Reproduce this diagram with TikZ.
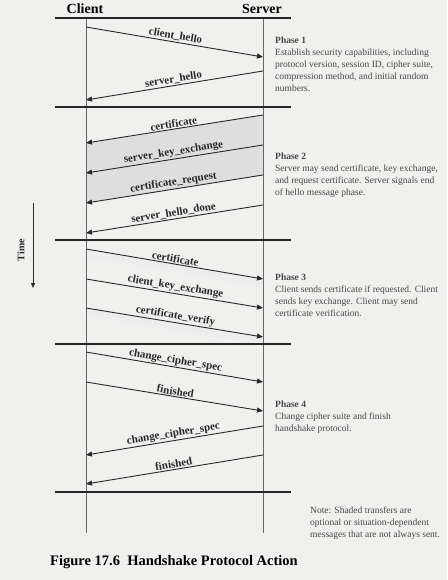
\documentclass[tikz,border=0pt]{standalone}
\usepackage{fontspec}
\setmainfont{Liberation Serif}
\usetikzlibrary{arrows.meta,calc,positioning}
\definecolor{paper}{RGB}{240,240,239}
\definecolor{ink}{RGB}{40,40,40}

\begin{document}
\begin{tikzpicture}[x=1pt,y=-1pt,
  msg/.style={draw=ink,line width=0.9pt,-{Triangle[length=6pt,width=5pt]}},
  lbl/.style={midway,sloped,above,inner sep=1pt,text=ink,font=\fontsize{11}{12}\selectfont\bfseries},
  rule/.style={line width=2.4pt,black!85},
  life/.style={line width=1pt,black!60},
  note/.style={anchor=north west,align=left,inner sep=0pt,text=black!72,font=\fontsize{9.5}{12}\selectfont},
  optband/.style={fill=black!13,draw=none}]
\fill[paper] (0,0) rectangle (447,580);
\useasboundingbox (0,0) rectangle (447,580);

% message end points
\coordinate (c1) at (86,27);  \coordinate (s1) at (263,57);
\coordinate (s2) at (263,71); \coordinate (c2) at (86,100);
\coordinate (s3) at (263,115); \coordinate (c3) at (86,143);
\coordinate (s4) at (263,145); \coordinate (c4) at (86,173);
\coordinate (s5) at (263,175); \coordinate (c5) at (86,203);
\coordinate (s6) at (263,205); \coordinate (c6) at (86,233);
\coordinate (c7) at (86,249);  \coordinate (s7) at (263,279);
\coordinate (c8) at (86,279);  \coordinate (s8) at (263,308);
\coordinate (c9) at (86,308);  \coordinate (s9) at (263,337);
\coordinate (c10) at (86,352); \coordinate (s10) at (263,382);
\coordinate (c11) at (86,382); \coordinate (s11) at (263,411);
\coordinate (s12) at (263,426); \coordinate (c12) at (86,455);
\coordinate (s13) at (263,455); \coordinate (c13) at (86,484);

% shaded (optional) transfers
\fill[optband] (s3) -- (c3) -- (c5) -- (s5) -- cycle;
\fill[optband,fill=black!7] (c7) -- (s7) -- ($(s7)+(0,8)$) -- ($(c7)+(0,8)$) -- cycle;
\fill[optband,fill=black!7] (c9) -- (s9) -- ($(s9)+(0,8)$) -- ($(c9)+(0,8)$) -- cycle;

% lifelines and phase rules
\coordinate (cTop) at (86,18);  \coordinate (cBot) at (86,533);
\coordinate (sTop) at (263,18); \coordinate (sBot) at (263,533);
\draw[life] (cTop) -- (cBot);
\draw[life] (sTop) -- (sBot);
\draw[rule] (55,18) -- (291,18);
\draw[rule] (55,107) -- (291,107);
\draw[rule] (55,240) -- (291,240);
\draw[rule] (55,344) -- (291,344);
\draw[rule] (55,492) -- (291,492);

\node[font=\fontsize{14}{16}\selectfont\bfseries] (client) at (85,9) {Client};
\node[font=\fontsize{14}{16}\selectfont\bfseries] (server) at (262,9) {Server};

% phase 1
\draw[msg] (c1) -- (s1) node[lbl] (m1) {client\_hello};
\draw[msg] (s2) -- (c2) node[lbl] (m2) {server\_hello};
% phase 2
\draw[msg] (s3) -- (c3) node[lbl] (m3) {certificate};
\draw[msg] (s4) -- (c4) node[lbl] (m4) {server\_key\_exchange};
\draw[msg] (s5) -- (c5) node[lbl] (m5) {certificate\_request};
\draw[msg] (s6) -- (c6) node[lbl] (m6) {server\_hello\_done};
% phase 3
\draw[msg] (c7) -- (s7) node[lbl] (m7) {certificate};
\draw[msg] (c8) -- (s8) node[lbl] (m8) {client\_key\_exchange};
\draw[msg] (c9) -- (s9) node[lbl] (m9) {certificate\_verify};
% phase 4
\draw[msg] (c10) -- (s10) node[lbl] (m10) {change\_cipher\_spec};
\draw[msg] (c11) -- (s11) node[lbl] (m11) {finished};
\draw[msg] (s12) -- (c12) node[lbl] (m12) {change\_cipher\_spec};
\draw[msg] (s13) -- (c13) node[lbl] (m13) {finished};

% time axis
\coordinate (t0) at (33,203);
\coordinate (t1) at (33,288);
\draw[ink,line width=0.8pt,-{Triangle[length=5pt,width=4pt]}] (t0) -- (t1);
\node[rotate=90,text=ink,font=\fontsize{10}{12}\selectfont\bfseries] (time) at (21,250) {Time};

% phase descriptions
\node[note] (p1) at (275,37) {\textbf{Phase 1}\\Establish security capabilities, including\\protocol version, session ID, cipher suite,\\compression method, and initial random\\numbers.};
\node[note] (p2) at (275,153) {\textbf{Phase 2}\\Server may send certificate, key exchange,\\and request certificate. Server signals end\\of hello message phase.};
\node[note] (p3) at (275,274) {\textbf{Phase 3}\\Client sends certificate if requested. Client\\sends key exchange. Client may send\\certificate verification.};
\node[note] (p4) at (275,401) {\textbf{Phase 4}\\Change cipher suite and finish\\handshake protocol.};
\node[note] (remark) at (310,507) {Note: Shaded transfers are\\optional or situation-dependent\\messages that are not always sent.};

\node[font=\fontsize{14.5}{16}\selectfont\bfseries] (caption) at (174,562) {Figure 17.6\ \ Handshake Protocol Action};
\end{tikzpicture}
\end{document}
